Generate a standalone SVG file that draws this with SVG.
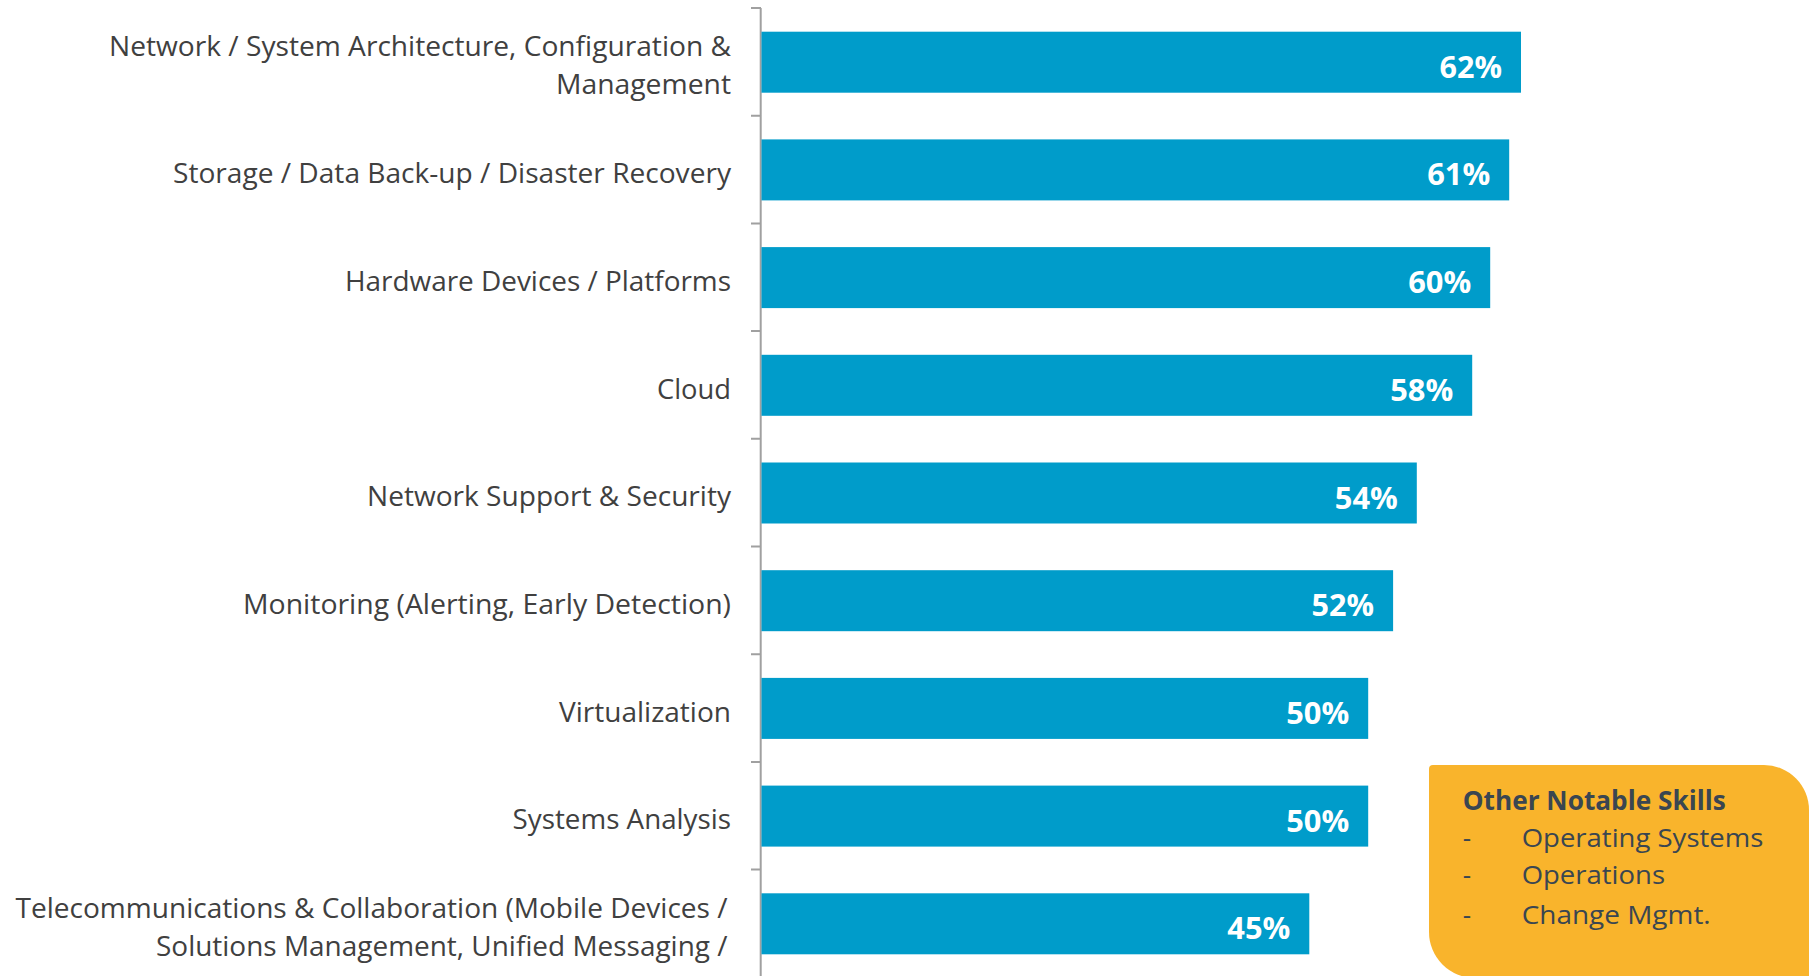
<svg xmlns="http://www.w3.org/2000/svg" width="1812" height="976" viewBox="0 0 1812 976">
<style>
.bg{fill:#ffffff}
.bar{fill:#009CCA}
.cat{font-family:"Open Sans","Liberation Sans",sans-serif;font-size:28px;fill:#404040;text-anchor:end}
.val{font-family:"Open Sans","Liberation Sans",sans-serif;font-size:30px;font-weight:bold;fill:#ffffff;text-anchor:end}
.axis{stroke:#A0A0A0;stroke-width:2;fill:none}
.note{fill:#F9B42C}
.nt{font-family:"Open Sans","Liberation Sans",sans-serif;font-size:26px;fill:#3A4651}
.ntb{font-weight:bold}
</style>
<rect class="bg" x="0" y="0" width="1812" height="976"/>
<g id="axis">
<path class="axis" d="M760.7,8V976M751,8H761M751,115.7H761M751,223.4H761M751,331.1H761M751,438.8H761M751,546.5H761M751,654.2H761M751,761.9H761M751,869.6H761"/>
</g>
<g id="connectors"></g>
<g id="row1">
<rect class="bar" x="761.5" y="31.7" width="759.5" height="61"/>
<text class="cat" x="731" y="56" textLength="622" lengthAdjust="spacingAndGlyphs">Network / System Architecture, Configuration &amp;</text>
<text class="cat" x="731" y="94.3" textLength="175" lengthAdjust="spacingAndGlyphs">Management</text>
<text class="val" x="1502" y="77.7" textLength="62.5" lengthAdjust="spacingAndGlyphs">62%</text>
</g>
<g id="row2">
<rect class="bar" x="761.5" y="139.4" width="747.7" height="61"/>
<text class="cat" x="731" y="183" textLength="558" lengthAdjust="spacingAndGlyphs">Storage / Data Back-up / Disaster Recovery</text>
<text class="val" x="1490.2" y="185.4" textLength="63" lengthAdjust="spacingAndGlyphs">61%</text>
</g>
<g id="row3">
<rect class="bar" x="761.5" y="247.1" width="728.7" height="61"/>
<text class="cat" x="731" y="290.8" textLength="386" lengthAdjust="spacingAndGlyphs">Hardware Devices / Platforms</text>
<text class="val" x="1471.2" y="293.1" textLength="63" lengthAdjust="spacingAndGlyphs">60%</text>
</g>
<g id="row4">
<rect class="bar" x="761.5" y="354.8" width="710.7" height="61"/>
<text class="cat" x="731" y="398.5" textLength="74" lengthAdjust="spacingAndGlyphs">Cloud</text>
<text class="val" x="1453.2" y="400.8" textLength="63" lengthAdjust="spacingAndGlyphs">58%</text>
</g>
<g id="row5">
<rect class="bar" x="761.5" y="462.5" width="655.3" height="61"/>
<text class="cat" x="731" y="506.2" textLength="364" lengthAdjust="spacingAndGlyphs">Network Support &amp; Security</text>
<text class="val" x="1397.8" y="508.5" textLength="63" lengthAdjust="spacingAndGlyphs">54%</text>
</g>
<g id="row6">
<rect class="bar" x="761.5" y="570.2" width="631.6" height="61"/>
<text class="cat" x="731" y="613.8" textLength="488" lengthAdjust="spacingAndGlyphs">Monitoring (Alerting, Early Detection)</text>
<text class="val" x="1374.1" y="616.2" textLength="62.5" lengthAdjust="spacingAndGlyphs">52%</text>
</g>
<g id="row7">
<rect class="bar" x="761.5" y="677.9" width="606.7" height="61"/>
<text class="cat" x="731" y="721.8" textLength="172" lengthAdjust="spacingAndGlyphs">Virtualization</text>
<text class="val" x="1349.2" y="723.9" textLength="63" lengthAdjust="spacingAndGlyphs">50%</text>
</g>
<g id="row8">
<rect class="bar" x="761.5" y="785.6" width="606.7" height="61"/>
<text class="cat" x="731" y="829.2" textLength="218.4" lengthAdjust="spacingAndGlyphs">Systems Analysis</text>
<text class="val" x="1349.2" y="831.6" textLength="63" lengthAdjust="spacingAndGlyphs">50%</text>
</g>
<g id="row9">
<rect class="bar" x="761.5" y="893.3" width="547.8" height="61"/>
<text class="cat" x="727.5" y="918" textLength="712" lengthAdjust="spacingAndGlyphs">Telecommunications &amp; Collaboration (Mobile Devices /</text>
<text class="cat" x="727.5" y="955.7" textLength="571.5" lengthAdjust="spacingAndGlyphs">Solutions Management, Unified Messaging /</text>
<text class="val" x="1290.3" y="939.3" textLength="63" lengthAdjust="spacingAndGlyphs">45%</text>
</g>
<g id="other-skills">
<path class="note" d="M1429,769 Q1429,765 1433,765 L1764,765 A45,45 0 0 1 1809,810 L1809,978 L1475,978 A46,46 0 0 1 1429,932 Z"/>
<text class="nt ntb" x="1462.7" y="810" textLength="263" lengthAdjust="spacingAndGlyphs">Other Notable Skills</text>
<text class="nt" x="1462.7" y="846.7">-</text>
<text class="nt" x="1521.7" y="846.7" textLength="241.6" lengthAdjust="spacingAndGlyphs">Operating Systems</text>
<text class="nt" x="1462.7" y="884.3">-</text>
<text class="nt" x="1521.7" y="884.3" textLength="143.3" lengthAdjust="spacingAndGlyphs">Operations</text>
<text class="nt" x="1462.7" y="924.3">-</text>
<text class="nt" x="1521.7" y="924.3" textLength="189" lengthAdjust="spacingAndGlyphs">Change Mgmt.</text>
</g>
</svg>
